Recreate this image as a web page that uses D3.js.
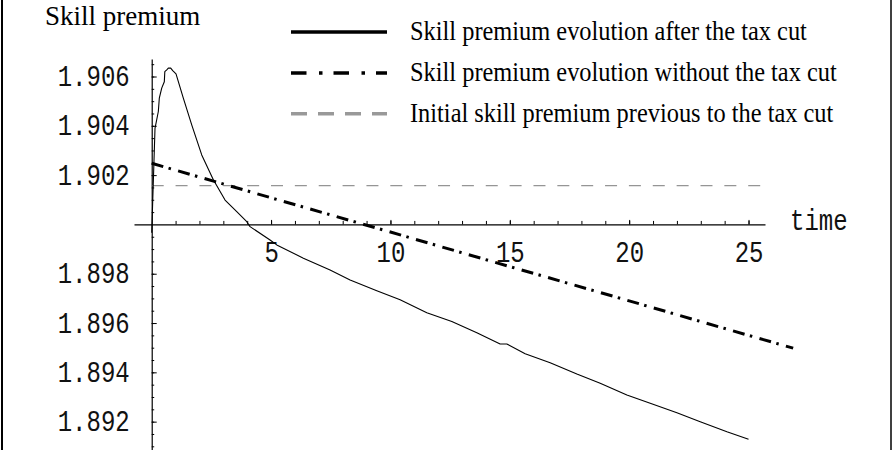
<!DOCTYPE html>
<html><head><meta charset="utf-8">
<script src="https://cdn.jsdelivr.net/npm/d3@7"></script>
<style>
html,body{margin:0;padding:0;background:#fff;}
svg{display:block;}
</style></head>
<body>
<svg id="chart" width="895" height="450"></svg>
<script>
// ---- data ----
const afterTime = [0,0.138,0.277,0.318,0.419,0.528,0.549,0.629,0.696,0.796,0.880,1.018,1.324,1.676,2.095,2.581,3.072,3.562,3.981,4.119,4.957,5.238,6.353,7.471,8.310,9.428,10.405,11.524,12.571,13.619,14.595,14.876,15.643,16.690,17.809,18.786,19.904,20.881,22.0,22.976,24.095,25.0];
const afterValues = [1.89966,1.90390,1.90458,1.90512,1.90553,1.90579,1.90620,1.90627,1.90634,1.90634,1.90624,1.90611,1.90512,1.90404,1.90282,1.90181,1.90099,1.90052,1.90011,1.89991,1.89937,1.89917,1.89863,1.89815,1.89775,1.89731,1.89694,1.89642,1.89606,1.89561,1.89515,1.89515,1.89475,1.89439,1.89393,1.89356,1.89308,1.89275,1.89236,1.89200,1.89159,1.89129];
const withoutTime = [0,5,10,15,20,25,26.87];
const withoutValues = [1.90248,1.90108,1.89969,1.89829,1.89690,1.89550,1.89498];
const initialTime = [0,25.62];
const initialValues = [1.90157,1.90157];
const xTickLabels = [5,10,15,20,25];
const yTickLabels = [1.892,1.894,1.896,1.898,1.902,1.904,1.906];
const legendLabels = ["Skill premium evolution after the tax cut","Skill premium evolution without the tax cut","Initial skill premium previous to the tax cut"];
const yTitle = "Skill premium";
const xTitle = "time";

// ---- drawing ----
const svg = d3.select("#chart");
const x = d3.scaleLinear().domain([-0.742,25.69]).range([134,765]);
const y = d3.scaleLinear().domain([1.89085,1.90671]).range([450,59]);
const serif = "'Liberation Serif','Times New Roman',serif";
const mono = "'Liberation Mono','Courier New',monospace";

// frame
svg.append("line").attr("x1",2).attr("x2",2).attr("y1",0).attr("y2",450).attr("stroke","#000").attr("stroke-width",2);
svg.append("line").attr("x1",891).attr("x2",891).attr("y1",0).attr("y2",450).attr("stroke","#000").attr("stroke-width",1.5);

// x axis (at y = 1.9)
const x0 = y(1.9);
const xMinor = d3.range(1,26);
const gxm = svg.append("g").attr("transform",`translate(0,${x0})`)
  .call(d3.axisBottom(x).tickValues(xMinor).tickSizeInner(-3.5).tickSizeOuter(0).tickFormat(""));
gxm.selectAll("line").attr("stroke","#000").attr("stroke-width",1);
gxm.select(".domain").attr("stroke","#000").attr("stroke-width",1.2);
const gx = svg.append("g").attr("transform",`translate(0,${x0})`)
  .call(d3.axisBottom(x).tickValues(xTickLabels).tickSizeInner(-4.5).tickSizeOuter(0).tickFormat(d=>d));
gx.select(".domain").remove();
gx.selectAll("line").attr("stroke","#000");
gx.selectAll("text").attr("y",0).attr("dy",0)
  .attr("transform","translate(0,37.5) scale(1,1.25)")
  .attr("font-family",mono).attr("font-size",24).attr("fill","#111");

// y axis at t = 0
const y0 = x(0);
const yMinor = d3.range(0,32).map(i=>+(1.891+i*0.0005).toFixed(4)).filter(v=>v<=1.9066 && Math.abs(v-1.9)>1e-9);
const gym = svg.append("g").attr("transform",`translate(${y0},0)`)
  .call(d3.axisRight(y).tickValues(yMinor).tickSizeInner(2.5).tickSizeOuter(0).tickFormat(""));
gym.selectAll("line").attr("stroke","#000");
gym.select(".domain").attr("stroke","#000").attr("stroke-width",1.2);
const gy = svg.append("g").attr("transform",`translate(${y0},0)`)
  .call(d3.axisRight(y).tickValues(yTickLabels).tickSizeInner(5).tickSizeOuter(0).tickFormat(d3.format(".3f")));
gy.select(".domain").remove();
gy.selectAll("line").attr("stroke","#000");
gy.selectAll("text").attr("x",0).attr("dy",0).attr("text-anchor","end")
  .attr("transform","translate(-22,9) scale(1,1.25)")
  .attr("font-family",mono).attr("font-size",24).attr("fill","#111");

// series
const zip = (ts,vs)=>ts.map((t,i)=>[t,vs[i]]);
const line = d3.line().x(d=>x(d[0])).y(d=>y(d[1]));
svg.append("path").datum(zip(initialTime,initialValues)).attr("d",line)
  .attr("fill","none").attr("stroke","#7a7a7a").attr("stroke-width",1).attr("stroke-dasharray","12,11.86");
svg.append("path").datum(zip(withoutTime,withoutValues)).attr("d",line)
  .attr("fill","none").attr("stroke","#000").attr("stroke-width",3).attr("stroke-dasharray","12,5.5,2.5,7.5");
svg.append("path").datum(zip(afterTime,afterValues)).attr("d",line)
  .attr("fill","none").attr("stroke","#000").attr("stroke-width",1.1).attr("stroke-linejoin","round");

// titles
svg.append("text").attr("x",45).attr("y",24.5)
  .attr("font-family",serif).attr("font-size",27).attr("fill","#000").text(yTitle);
svg.append("text").attr("transform","translate(790,230) scale(1,1.25)")
  .attr("font-family",mono).attr("font-size",24).attr("fill","#111").text(xTitle);

// legend
const legY = [32,73,113.7];
const legStyles = [
  {stroke:"#000", dash:null},
  {stroke:"#000", dash:"15.5,12.5,3.5,11"},
  {stroke:"#999", dash:"16,11"}
];
const leg = svg.append("g");
legendLabels.forEach((lab,i)=>{
  const l = leg.append("line").attr("x1",291).attr("x2",387).attr("y1",legY[i]).attr("y2",legY[i])
    .attr("stroke",legStyles[i].stroke).attr("stroke-width",3.5);
  if(legStyles[i].dash) l.attr("stroke-dasharray",legStyles[i].dash);
  leg.append("text").attr("transform",`translate(410,${legY[i]+8}) scale(1,1.15)`)
    .attr("font-family",serif).attr("font-size",24.4).attr("fill","#000").text(lab);
});
</script>
</body></html>
